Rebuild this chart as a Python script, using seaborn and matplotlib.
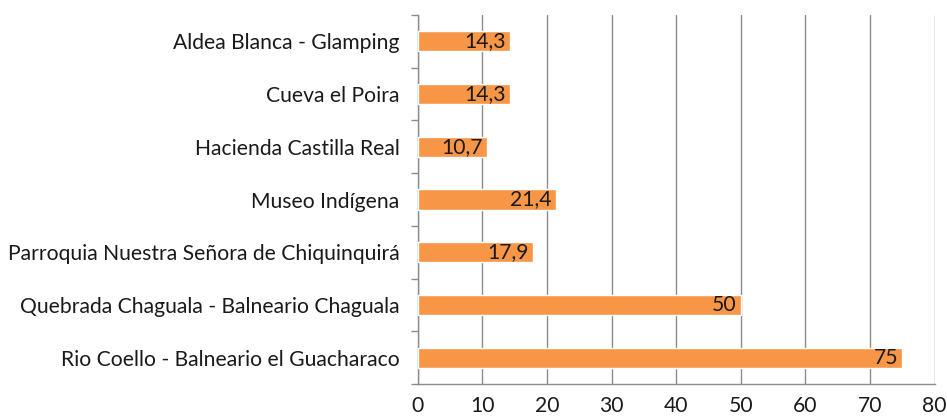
import matplotlib
matplotlib.use("Agg")
import matplotlib.pyplot as plt
import pandas as pd
import seaborn as sns

# datos del gráfico
lugares = [
    "Aldea Blanca - Glamping",
    "Cueva el Poira",
    "Hacienda Castilla Real",
    "Museo Indígena",
    "Parroquia Nuestra Señora de Chiquinquirá",
    "Quebrada Chaguala - Balneario Chaguala",
    "Rio Coello - Balneario el Guacharaco",
]
porcentajes = [14.3, 14.3, 10.7, 21.4, 17.9, 50, 75]
etiquetas = ["14,3", "14,3", "10,7", "21,4", "17,9", "50", "75"]
ticks_x = [0, 10, 20, 30, 40, 50, 60, 70, 80]

df = pd.DataFrame({"lugar": lugares, "valor": porcentajes})

sns.set_theme(style="white")
plt.rcParams["font.family"] = ["Lato", "DejaVu Sans"]

fig = plt.figure(figsize=(9.47, 4.2), dpi=100)
ax = fig.add_axes([0.441, 0.086, 0.546, 0.878])

sns.barplot(data=df, x="valor", y="lugar", color="#F79646", saturation=1,
            width=0.38, ax=ax, zorder=3)

fs = 15.2
# etiquetas dentro de la barra, al final
for i, (v, t) in enumerate(zip(porcentajes, etiquetas)):
    ax.annotate(t, (v, i), xytext=(-3, 0), textcoords="offset points",
                ha="right", va="center", fontsize=fs, color="#1a1a1a", zorder=4)

gris = "#8c8c8c"
ax.set_xlim(0, 80)
ax.set_ylim(len(lugares) - 0.5, -0.5)
ax.set_xticks(ticks_x)
ax.set_xticklabels([str(t) for t in ticks_x], fontsize=fs, color="#1a1a1a")
ax.xaxis.grid(True, color=gris, linewidth=1, zorder=0)
ax.tick_params(axis="x", length=5, color=gris, width=1, pad=4)

# marcas del eje y entre categorías
ax.set_yticks([i - 0.5 for i in range(len(lugares) + 1)], minor=True)
ax.tick_params(axis="y", which="minor", length=5, color=gris, width=1, left=True)
ax.tick_params(axis="y", which="major", length=0, pad=13, labelsize=fs,
               labelcolor="#1a1a1a")
ax.set_xlabel("")
ax.set_ylabel("")

for s in ["top", "right"]:
    ax.spines[s].set_visible(False)
for s in ["left", "bottom"]:
    ax.spines[s].set_color(gris)
    ax.spines[s].set_linewidth(1)

fig.savefig("out.png", dpi=100)
